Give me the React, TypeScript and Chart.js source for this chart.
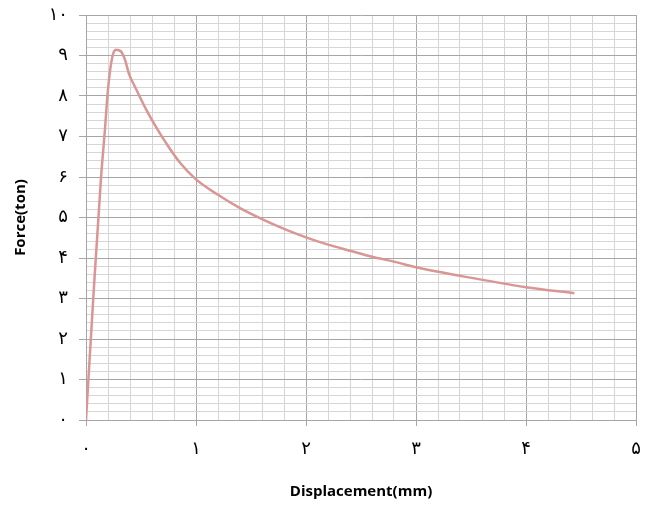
import React, { useEffect, useRef } from "react";
import { Chart, registerables } from "chart.js";

Chart.register(...registerables);

const displacement = [0, 0.066, 0.136, 0.173, 0.194, 0.22, 0.248, 0.273, 0.3, 0.324, 0.355, 0.394, 0.445, 0.55, 0.64, 0.73, 0.855, 1.0, 1.2, 1.4, 1.6, 1.8, 2.0, 2.2, 2.4, 2.6, 2.8, 3.0, 3.4, 4.0, 4.44];
const force = [0, 3.0, 5.96, 7.2, 7.98, 8.65, 9.05, 9.14, 9.13, 9.08, 8.89, 8.52, 8.23, 7.65, 7.22, 6.83, 6.35, 5.94, 5.56, 5.23, 4.96, 4.72, 4.51, 4.33, 4.18, 4.03, 3.91, 3.77, 3.56, 3.28, 3.13];

const xTickLabels = ["۰", "۱", "۲", "۳", "۴", "۵"];
const yTickLabels = ["۰", "۱", "۲", "۳", "۴", "۵", "۶", "۷", "۸", "۹", "۱۰"];

const xTitle = "Displacement(mm)";
const yTitle = "Force(ton)";

const isMajor = (v: number) => Math.abs(v - Math.round(v)) < 1e-6;
const MAJOR = "#a6a6a6";
const MINOR = "#d6d6d6";

export default function App() {
  const ref = useRef<HTMLCanvasElement | null>(null);
  useEffect(() => {
    if (!ref.current) return;
    const points = displacement.map((x, i) => ({ x, y: force[i] }));
    const chart = new Chart(ref.current, {
      type: "line",
      data: {
        datasets: [
          {
            data: points,
            borderColor: "#d99694",
            borderWidth: 2.5,
            pointRadius: 0,
            tension: 0.3,
            cubicInterpolationMode: "monotone",
            fill: false,
          },
        ],
      },
      options: {
        responsive: false,
        animation: false,
        devicePixelRatio: 1,
        layout: { padding: { left: 0, right: 15, top: 15, bottom: 0 } },
        plugins: { legend: { display: false }, tooltip: { enabled: false } },
        scales: {
          x: {
            type: "linear",
            min: 0,
            max: 5,
            afterFit: (s: any) => { s.height = 86; s.paddingRight = 0; s.paddingLeft = 0; },
            border: { display: true, color: MAJOR },
            grid: {
              color: (c: any) => (isMajor(c.tick.value) ? MAJOR : MINOR),
              tickColor: (c: any) => (isMajor(c.tick.value) ? MAJOR : "rgba(0,0,0,0)"),
              tickLength: 6,
            },
            ticks: {
              stepSize: 0.2,
              maxTicksLimit: 100,
              autoSkip: false,
              maxRotation: 0,
              padding: 13,
              color: "#000",
              font: { family: "DejaVu Sans", size: 18 },
              callback: (v: any) => (isMajor(Number(v)) ? xTickLabels[Math.round(Number(v))] : ""),
            },
            title: {
              display: true,
              text: xTitle,
              color: "#000",
              font: { family: "Open Sans", size: 15, weight: "bold" },
              padding: { top: 0, bottom: 5 },
            },
          },
          y: {
            type: "linear",
            min: 0,
            max: 10,
            afterFit: (s: any) => { s.width = 86; s.paddingTop = 0; s.paddingBottom = 0; },
            border: { display: true, color: MAJOR },
            grid: {
              color: (c: any) => (isMajor(c.tick.value) ? MAJOR : MINOR),
              tickColor: (c: any) => (isMajor(c.tick.value) ? MAJOR : "rgba(0,0,0,0)"),
              tickLength: 7,
            },
            ticks: {
              stepSize: 0.2,
              maxTicksLimit: 100,
              autoSkip: false,
              padding: 11,
              color: "#000",
              font: { family: "DejaVu Sans", size: 18 },
              callback: (v: any) => (isMajor(Number(v)) ? yTickLabels[Math.round(Number(v))] : ""),
            },
            title: {
              display: true,
              text: yTitle,
              color: "#000",
              font: { family: "Open Sans", size: 15, weight: "bold" },
              padding: { top: 12, bottom: 0 },
            },
          },
        },
      },
    });
    return () => chart.destroy();
  }, []);
  return (
    <div style={{ position: "fixed", left: 0, top: 0, width: 651, height: 506, background: "#fff" }}>
      <canvas ref={ref} width={651} height={506} />
    </div>
  );
}
